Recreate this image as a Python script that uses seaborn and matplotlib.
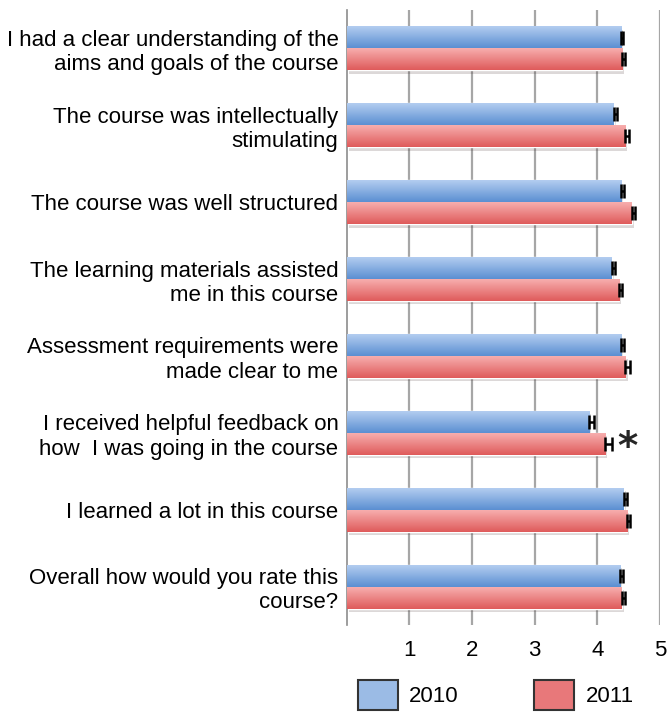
import matplotlib
matplotlib.use("Agg")
import matplotlib.pyplot as plt
import matplotlib.patheffects as pe
from matplotlib.patches import Patch
from matplotlib.colors import LinearSegmentedColormap
import numpy as np
import pandas as pd
import seaborn as sns

questions = [
    "I had a clear understanding of the\naims and goals of the course",
    "The course was intellectually\nstimulating",
    "The course was well structured",
    "The learning materials assisted\nme in this course",
    "Assessment requirements were\nmade clear to me",
    "I received helpful feedback on\nhow  I was going in the course",
    "I learned a lot in this course",
    "Overall how would you rate this\ncourse?",
]
years = ["2010", "2011"]
mean_2010 = [4.38, 4.26, 4.38, 4.23, 4.38, 3.87, 4.42, 4.36]
mean_2011 = [4.40, 4.44, 4.55, 4.35, 4.45, 4.12, 4.48, 4.39]
err_2010 = [0.03, 0.05, 0.05, 0.05, 0.04, 0.08, 0.05, 0.05]
err_2011 = [0.04, 0.07, 0.05, 0.05, 0.07, 0.11, 0.05, 0.05]
significant = [False, False, False, False, False, True, False, False]

df = pd.DataFrame({
    "question": questions * 2,
    "year": [years[0]] * len(questions) + [years[1]] * len(questions),
    "mean": mean_2010 + mean_2011,
})

sns.set_style("white")
plt.rcParams["font.family"] = ["Liberation Sans", "DejaVu Sans"]

palette = {"2010": "#9bbbe5", "2011": "#e8787a"}
grads = {"2010": ("#b3cdf0", "#5b8fd2"), "2011": ("#f7aeae", "#df5b5b")}

fig = plt.figure(figsize=(6.72, 7.16), dpi=100)
ax = fig.add_axes([0.516, 0.127, 0.466, 0.859])

sns.barplot(data=df, y="question", x="mean", hue="year", palette=palette,
            width=0.57, errorbar=None, legend=False, ax=ax, zorder=2)

# gradient fill + soft shadow on each bar, then error bars
for cont, yr, errs in zip(ax.containers, years, [err_2010, err_2011]):
    cmap = LinearSegmentedColormap.from_list(yr, [grads[yr][0], grads[yr][1]])
    for bar, e in zip(cont, errs):
        x0, y0 = bar.get_x(), bar.get_y()
        w, h = bar.get_width(), bar.get_height()
        bar.set_path_effects([pe.SimplePatchShadow(offset=(1.5, -2.5), alpha=0.18),
                              pe.Normal()])
        grad = np.linspace(0, 1, 64).reshape(-1, 1)
        ax.imshow(grad, cmap=cmap, aspect="auto", extent=(x0, x0 + w, y0 + h, y0),
                  origin="upper", zorder=3, interpolation="bicubic")
        ax.errorbar(x0 + w, y0 + h / 2, xerr=[[0], [e]], fmt="none", ecolor="black",
                    elinewidth=1.8, capsize=5, capthick=1.8, zorder=4)

# significance marker
c11 = ax.containers[1]
for bar, e, sig in zip(c11, err_2011, significant):
    if sig:
        ax.text(bar.get_width() + e + 0.09, bar.get_y() + bar.get_height() / 2 + 0.06, "*",
                fontsize=28, fontweight="bold", va="center", ha="left",
                family=["DejaVu Sans"])

ax.set_xlim(0, 5)
ax.set_ylim(len(questions) - 0.5, -0.5)
ax.set_xticks([1, 2, 3, 4, 5])
ax.set_xlabel("")
ax.set_ylabel("")
ax.xaxis.grid(True, color="#a6a6a6", linewidth=1.6)
ax.set_axisbelow(True)
for s in ["top", "right", "bottom"]:
    ax.spines[s].set_visible(False)
ax.spines["left"].set_color("#8c8c8c")
ax.spines["left"].set_linewidth(1.2)
ax.tick_params(axis="x", length=0, labelsize=16, pad=11, labelcolor="black")
ax.tick_params(axis="y", which="major", length=0, labelsize=16, pad=6, labelcolor="black")
ax.set_yticks(np.arange(len(questions) + 1) - 0.5, minor=True)
ax.tick_params(axis="y", which="minor", length=5, color="#8c8c8c", width=1.2)
for lbl in ax.get_yticklabels():
    lbl.set_multialignment("right")

handles = [Patch(facecolor=palette[y], edgecolor="#333333", linewidth=1.5, label=y) for y in years]
fig.legend(handles=handles, loc="center", bbox_to_anchor=(0.738, 0.029), ncol=2,
           frameon=False, fontsize=16, handlelength=1.8, handleheight=1.7,
           columnspacing=3.4, handletextpad=0.5, labelcolor="black")

fig.savefig("out.png", dpi=100)
